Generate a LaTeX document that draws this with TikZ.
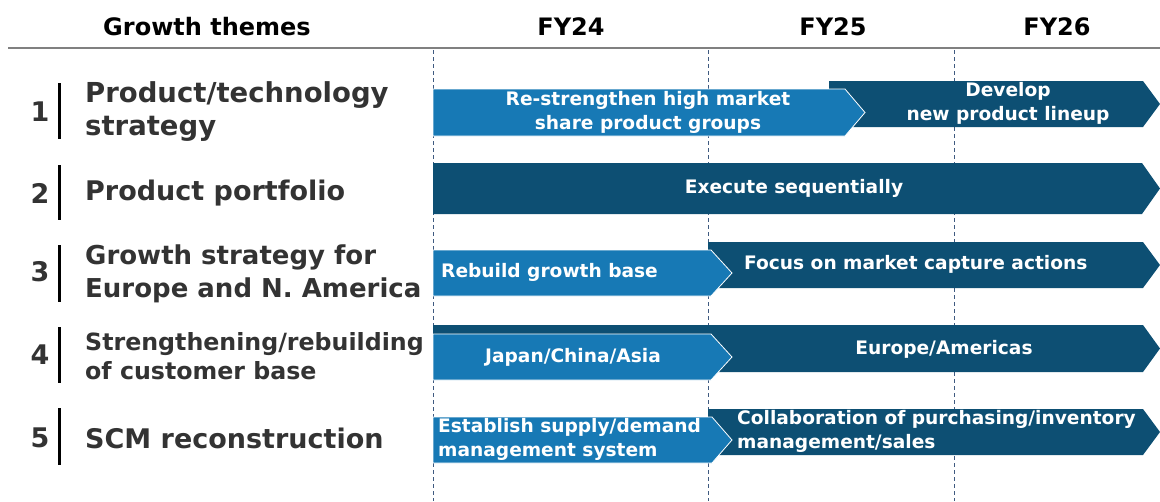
\documentclass[tikz,border=0pt]{standalone}
\usepackage{fontspec}
\setmainfont{DejaVu Sans}
\definecolor{lightbar}{HTML}{1779B5}
\definecolor{darkbar}{HTML}{0D4F73}
\definecolor{themegray}{HTML}{333333}
\definecolor{yearblue}{HTML}{3F5A80}

\begin{document}
\begin{tikzpicture}[x=1pt, y=-1pt,
    every node/.style={inner sep=0pt},
    head/.style={font=\fontsize{24}{28}\selectfont\bfseries},
    num/.style={font=\fontsize{27}{30}\selectfont\bfseries, text=themegray},
    theme/.style={font=\fontsize{27.5}{33}\selectfont\bfseries, text=themegray, anchor=west, align=left},
    bartext/.style={font=\fontsize{18.6}{24}\selectfont\bfseries, text=white, align=center},
    darkarrow/.style={fill=darkbar},
    lightarrow/.style={fill=lightbar, draw=white, line width=0.8pt},
    yearline/.style={yearblue, dash pattern=on 4pt off 3pt, line width=0.8pt}]
    \useasboundingbox (0,0) rectangle (1160,501);

    % Header
    \node[head] (hd) at (207,27) {Growth themes};
    \node[head] (fy24) at (571,27) {FY24};
    \node[head] (fy25) at (833,27) {FY25};
    \node[head] (fy26) at (1057,27) {FY26};
    \draw[gray, line width=1.2pt] (8,48) -- (1160,48);

    % Year boundaries
    \draw[yearline] (433,50) -- (433,501);
    \draw[yearline] (708,50) -- (708,501);
    \draw[yearline] (954,50) -- (954,501);

    % Growth themes
    \node[num] (n1) at (40,112) {1};
    \node[num] (n2) at (40,193) {2};
    \node[num] (n3) at (40,272) {3};
    \node[num] (n4) at (40,355) {4};
    \node[num] (n5) at (40,438) {5};
    \draw[line width=3pt] (59,83) -- (59,139);
    \draw[line width=3pt] (59,165) -- (59,220);
    \draw[line width=3pt] (59,245) -- (59,302);
    \draw[line width=3pt] (59,327) -- (59,383);
    \draw[line width=3pt] (59,408) -- (59,465);
    \node[theme] (th1) at (85,112) {Product/technology\\strategy};
    \node[theme, font=\fontsize{27}{33}\selectfont\bfseries] (th2) at (85,193) {Product portfolio};
    \node[theme, font=\fontsize{26}{33}\selectfont\bfseries] (th3) at (85,274) {Growth strategy for\\Europe and N. America};
    \node[theme, font=\fontsize{23.7}{29}\selectfont\bfseries] (th4) at (85,356) {Strengthening/rebuilding\\of customer base};
    \node[theme, font=\fontsize{27}{33}\selectfont\bfseries] (th5) at (85,438) {SCM reconstruction};

    % Row 1
    \fill[darkarrow] (829,81) -- (1143,81) -- (1160,104) -- (1143,127) -- (829,127) -- cycle;
    \draw[lightarrow] (433,89) -- (845,89) -- (865,112.5) -- (845,136) -- (433,136) -- cycle;
    \node[bartext] (r1a) at (648,112) {Re-strengthen high market\\share product groups};
    \node[bartext] (r1b) at (1008,103) {Develop\\new product lineup};

    % Row 2
    \fill[darkarrow] (433,163) -- (1142,163) -- (1160,188.5) -- (1142,214) -- (433,214) -- cycle;
    \node[bartext] (r2a) at (794,188) {Execute sequentially};

    % Row 3
    \fill[darkarrow] (708,242) -- (1143,242) -- (1160,265) -- (1143,288) -- (708,288) -- cycle;
    \draw[lightarrow] (433,250) -- (711,250) -- (732,273) -- (711,296) -- (433,296) -- cycle;
    \node[bartext, anchor=west] (r3a) at (441,272) {Rebuild growth base};
    \node[bartext, anchor=west] (r3b) at (744,264) {Focus on market capture actions};

    % Row 4
    \fill[darkarrow] (433,325) -- (1143,325) -- (1160,348.5) -- (1143,372) -- (433,372) -- cycle;
    \draw[lightarrow] (433,334) -- (711,334) -- (732,357) -- (711,380) -- (433,380) -- cycle;
    \node[bartext] (r4a) at (573,357) {Japan/China/Asia};
    \node[bartext] (r4b) at (944,349) {Europe/Americas};

    % Row 5
    \fill[darkarrow] (708,409) -- (1143,409) -- (1160,432) -- (1143,455) -- (708,455) -- cycle;
    \draw[lightarrow] (433,417) -- (712,417) -- (732,440) -- (712,463) -- (433,463) -- cycle;
    \node[bartext, anchor=west, align=left] (r5a) at (438,439) {Establish supply/demand\\management system};
    \node[bartext, anchor=west, align=left] (r5b) at (737,431) {Collaboration of purchasing/inventory\\management/sales};
\end{tikzpicture}
\end{document}
